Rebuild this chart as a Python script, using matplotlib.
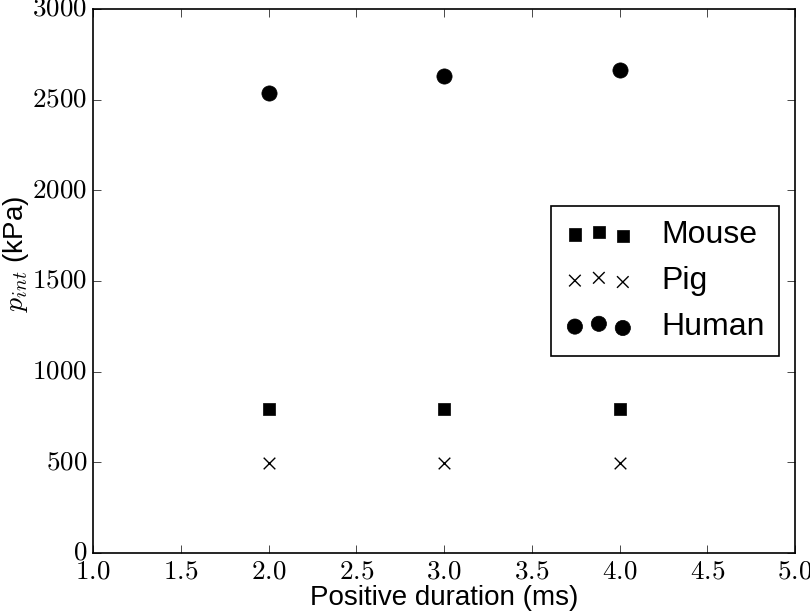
import matplotlib
matplotlib.use("Agg")
import matplotlib.pyplot as plt
from matplotlib.ticker import FuncFormatter

plt.style.use("classic")
plt.rcParams["mathtext.fontset"] = "cm"
plt.rcParams["font.family"] = ["Liberation Sans", "DejaVu Sans"]

durations = [2.0, 3.0, 4.0]
mouse = [792, 792, 792]
pig = [496, 496, 496]
human = [2537, 2632, 2664]

fig = plt.figure(figsize=(8.1, 6.12), dpi=100, facecolor="white")
ax = fig.add_axes([93/810, (612-553)/612, 702/810, 544/612])

ax.scatter(durations, mouse, marker="s", s=80, c="black", linewidths=0.5, label="Mouse")
ax.scatter(durations, pig, marker="x", s=70, c="black", linewidths=1.0, label="Pig")
ax.scatter(durations, human, marker="o", s=120, c="black", linewidths=0.5, label="Human")

ax.set_xlim(1.0, 5.0)
ax.set_ylim(0, 3000)
ax.set_xticks([1.0, 1.5, 2.0, 2.5, 3.0, 3.5, 4.0, 4.5, 5.0])
ax.set_yticks(range(0, 3001, 500))
ax.xaxis.set_major_formatter(FuncFormatter(lambda v, p: r"$%.1f$" % v))
ax.yaxis.set_major_formatter(FuncFormatter(lambda v, p: r"$%d$" % v))
ax.tick_params(labelsize=19.5, direction="in", length=6, pad=4)
for s in ax.spines.values():
    s.set_linewidth(1.2)

ax.set_xlabel("Positive duration (ms)", fontsize=20, labelpad=0)
ax.set_ylabel(r"$p_{int}$ (kPa)", fontsize=20)
ax.yaxis.set_label_coords(-0.088, 0.55)

leg = ax.legend(loc="center right", scatterpoints=3, fontsize=23,
                frameon=True, fancybox=False, borderpad=0.45,
                handlelength=2.1, handletextpad=0.9, labelspacing=0.5,
                borderaxespad=0.5)
leg.get_frame().set_edgecolor("black")
leg.get_frame().set_linewidth(1.2)

fig.savefig("out.png", dpi=100, facecolor="white")
